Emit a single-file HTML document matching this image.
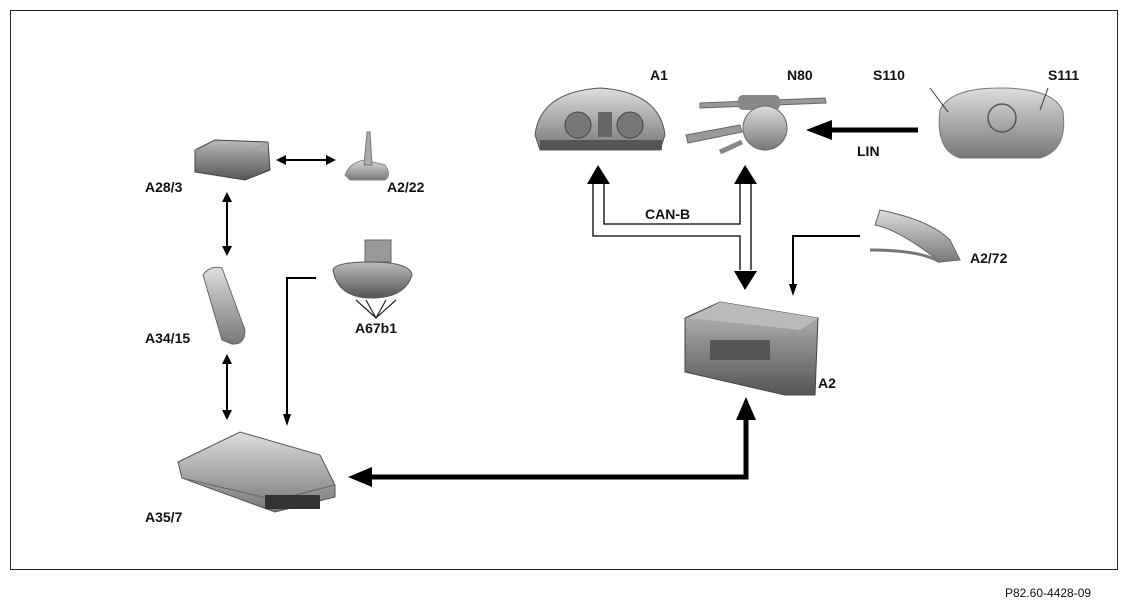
<!DOCTYPE html>
<html><head><meta charset="utf-8"><style>
html,body{margin:0;padding:0;background:#fff;}
svg{display:block;}
text{font-family:"Liberation Sans",sans-serif;font-weight:bold;font-size:14px;fill:#111;}
</style></head><body>
<svg width="1128" height="608" viewBox="0 0 1128 608" xmlns="http://www.w3.org/2000/svg">
<defs>
<linearGradient id="g1" x1="0" y1="0" x2="0" y2="1"><stop offset="0" stop-color="#ddd"/><stop offset="1" stop-color="#777"/></linearGradient>
<linearGradient id="g2" x1="0" y1="0" x2="0" y2="1"><stop offset="0" stop-color="#bbb"/><stop offset="1" stop-color="#555"/></linearGradient>
</defs>
<rect x="10.5" y="10.5" width="1107" height="559" fill="#fff" stroke="#222" stroke-width="1"/>
<text x="1005" y="597" style="font-weight:normal;font-size:12px">P82.60-4428-09</text>

<!-- A28/3 -->
<path d="M195 150 L215 140 L268 142 L270 170 L245 180 L195 172 Z" fill="url(#g2)" stroke="#444"/>
<path d="M195 150 L245 155 L268 142" fill="none" stroke="#999"/>
<text x="145" y="192">A28/3</text>
<!-- arrow A28/3 - A2/22 -->
<line x1="282" y1="160" x2="328" y2="160" stroke="#000" stroke-width="2"/>
<polygon points="276,160 286,155 286,165" fill="#000"/><polygon points="336,160 326,155 326,165" fill="#000"/>
<!-- A2/22 antenna -->
<path d="M345 175 Q350 162 365 160 L385 165 Q392 175 385 180 L350 180 Z" fill="url(#g1)" stroke="#888"/>
<path d="M367 132 L370 132 L372 165 L364 165 Z" fill="#aaa" stroke="#777"/>
<text x="387" y="192">A2/22</text>
<!-- vertical arrows -->
<line x1="227" y1="198" x2="227" y2="250" stroke="#000" stroke-width="2"/>
<polygon points="227,192 222,202 232,202" fill="#000"/><polygon points="227,256 222,246 232,246" fill="#000"/>
<line x1="227" y1="360" x2="227" y2="414" stroke="#000" stroke-width="2"/>
<polygon points="227,354 222,364 232,364" fill="#000"/><polygon points="227,420 222,410 232,410" fill="#000"/>
<!-- A34/15 phone -->
<path d="M203 275 Q210 265 222 268 L245 330 Q245 345 232 344 L222 340 Z" fill="url(#g1)" stroke="#666"/>
<text x="145" y="343">A34/15</text>
<!-- A67b1 mirror -->
<rect x="365" y="240" width="26" height="22" fill="#999" stroke="#666"/>
<path d="M333 270 Q335 262 370 262 Q410 262 412 275 Q405 298 372 298 Q338 298 333 270 Z" fill="url(#g2)" stroke="#555"/>
<path d="M356 300 L376 318 L396 300 M366 300 L376 318 L386 300" fill="none" stroke="#222" stroke-width="1.2"/>
<text x="355" y="333">A67b1</text>
<!-- line mirror to A35/7 -->
<polyline points="316,278 287,278 287,418" fill="none" stroke="#000" stroke-width="2"/>
<polygon points="287,426 283,414 291,414" fill="#000"/>
<!-- A35/7 -->
<path d="M178 462 L240 432 L320 455 L335 485 L335 497 L275 512 L182 478 Z" fill="url(#g1)" stroke="#555"/>
<path d="M182 478 L275 500 L335 485" fill="none" stroke="#666"/>
<rect x="265" y="495" width="55" height="14" fill="#333"/>
<text x="145" y="522">A35/7</text>
<!-- thick arrow A35/7 - A2 -->
<polyline points="368,477 746,477 746,418" fill="none" stroke="#000" stroke-width="5"/>
<polygon points="348,477 372,467 372,487" fill="#000"/>
<polygon points="746,397 736,420 756,420" fill="#000"/>
<!-- A2 radio -->
<path d="M685 318 L720 302 L818 318 L815 395 L785 395 L685 372 Z" fill="url(#g2)" stroke="#444"/>
<path d="M720 302 L818 318 L800 330 L690 318 Z" fill="#bbb"/>
<rect x="710" y="340" width="60" height="20" fill="#555"/>
<text x="818" y="388">A2</text>
<!-- A2/72 -->
<path d="M880 210 Q930 220 950 240 L960 260 L940 262 Q900 230 875 225 Z" fill="url(#g1)" stroke="#666"/>
<path d="M870 250 Q920 250 940 262" fill="none" stroke="#777" stroke-width="3"/>
<text x="970" y="263">A2/72</text>
<polyline points="860,236 793,236 793,288" fill="none" stroke="#000" stroke-width="2"/>
<polygon points="793,296 789,284 797,284" fill="#000"/>
<!-- CAN-B double lines -->
<polyline points="604,182 604,224 740,224 740,182" fill="none" stroke="#000" stroke-width="1.3"/>
<polyline points="593,182 593,236 740,236 740,270" fill="none" stroke="#000" stroke-width="1.3"/>
<line x1="751" y1="182" x2="751" y2="270" stroke="#000" stroke-width="1.3"/>
<polygon points="598,165 587,184 610,184" fill="#000"/>
<polygon points="745,165 734,184 757,184" fill="#000"/>
<polygon points="745,290 734,271 757,271" fill="#000"/>
<text x="645" y="219">CAN-B</text>
<!-- A1 cluster -->
<path d="M535 135 Q540 92 600 88 Q660 92 665 135 L660 150 L540 150 Z" fill="url(#g1)" stroke="#555"/>
<circle cx="578" cy="125" r="13" fill="#777" stroke="#444"/><circle cx="630" cy="125" r="13" fill="#777" stroke="#444"/>
<rect x="598" y="112" width="14" height="25" fill="#666"/>
<rect x="540" y="140" width="122" height="10" fill="#555"/>
<text x="650" y="80">A1</text>
<!-- N80 -->
<path d="M700 103 L825 98 L826 103 L700 108 Z" fill="#999" stroke="#666"/>
<rect x="738" y="95" width="42" height="15" rx="5" fill="#888"/>
<circle cx="765" cy="128" r="22" fill="url(#g1)" stroke="#666"/>
<path d="M686 135 L740 125 L742 132 L688 143 Z" fill="#999" stroke="#666"/>
<path d="M720 152 L742 142" stroke="#888" stroke-width="5"/>
<text x="787" y="80">N80</text>
<!-- LIN arrow -->
<line x1="918" y1="130" x2="828" y2="130" stroke="#000" stroke-width="5"/>
<polygon points="806,130 832,120 832,140" fill="#000"/>
<text x="857" y="156">LIN</text>
<!-- airbag -->
<path d="M940 110 Q950 88 1000 88 Q1055 88 1063 112 Q1068 150 1040 158 L960 158 Q935 150 940 110 Z" fill="url(#g1)" stroke="#777"/>
<circle cx="1002" cy="118" r="14" fill="none" stroke="#555" stroke-width="1.5"/>
<line x1="930" y1="88" x2="948" y2="112" stroke="#333"/><line x1="1048" y1="88" x2="1040" y2="110" stroke="#333"/>
<text x="873" y="80">S110</text>
<text x="1048" y="80">S111</text>
</svg>
</body></html>
